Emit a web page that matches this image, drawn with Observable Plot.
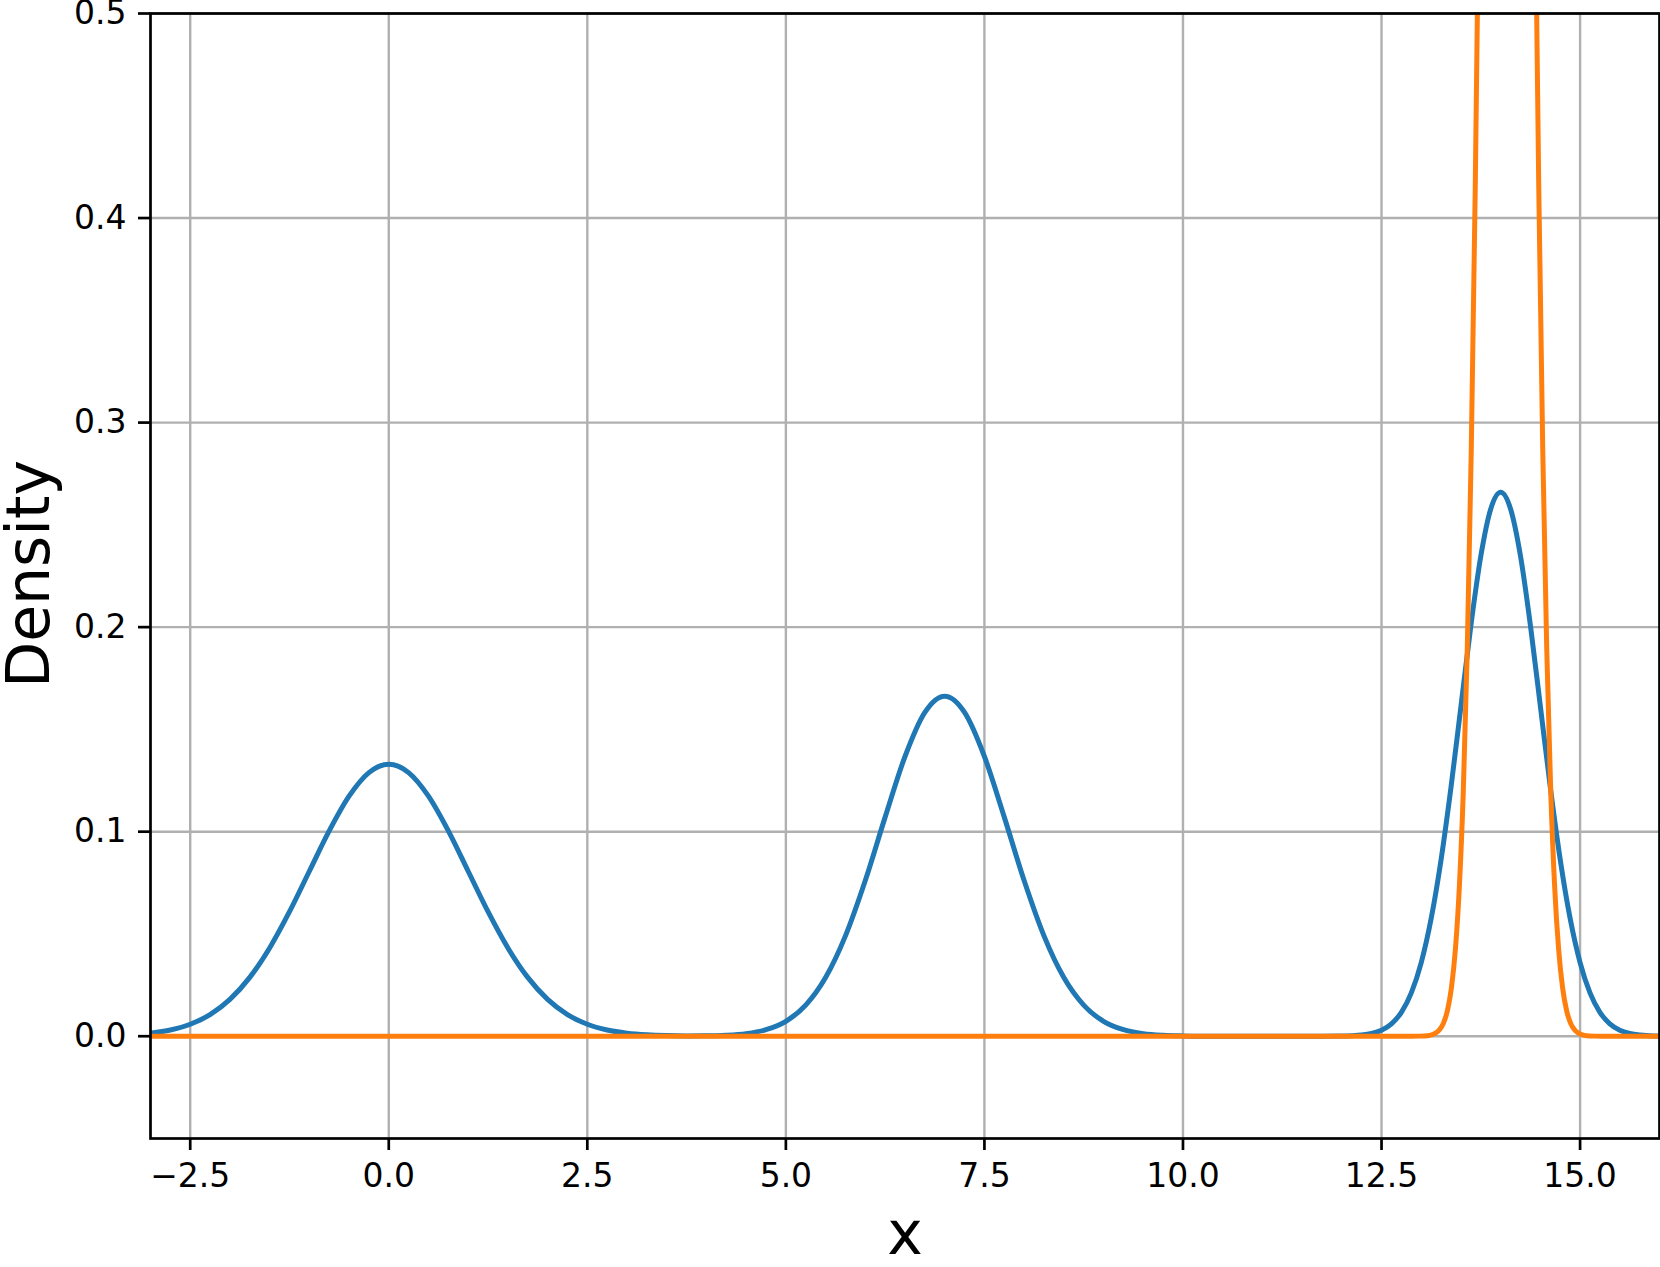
<!DOCTYPE html>
<html>
<head>
<meta charset="utf-8">
<script src="https://cdn.jsdelivr.net/npm/d3@7"></script>
<script src="https://cdn.jsdelivr.net/npm/@observablehq/plot@0.6"></script>
<style>
  html, body { margin: 0; padding: 0; background: #fff; }
  #chart svg { display: block; }
</style>
</head>
<body>
<div id="chart"></div>
<script>
// Tick values
const xTicks = [-2.5, 0, 2.5, 5, 7.5, 10, 12.5, 15];
const yTicks = [0, 0.1, 0.2, 0.3, 0.4, 0.5];

// Blue series (density estimate)
const blueX = [
  -3, -2.75, -2.5, -2.25, -2, -1.75, -1.5, -1.25, -1, -0.75, -0.5, -0.25,
  0, 0.25, 0.5, 0.75, 1, 1.25, 1.5, 1.75, 2, 2.25, 2.5, 2.75,
  3, 3.25, 3.5, 3.75, 4, 4.25, 4.5, 4.75, 5, 5.25, 5.5, 5.75,
  6, 6.25, 6.5, 6.75, 7, 7.25, 7.5, 7.75, 8, 8.25, 8.5, 8.75,
  9, 9.25, 9.5, 9.75, 10, 10.25, 10.5, 10.75, 11, 11.25, 11.5, 11.75,
  12, 12.125, 12.25, 12.375, 12.5, 12.625, 12.75, 12.875,
  13, 13.125, 13.25, 13.375, 13.5, 13.625, 13.75, 13.875,
  14, 14.125, 14.25, 14.375, 14.5, 14.625, 14.75, 14.875,
  15, 15.125, 15.25, 15.375, 15.5, 15.625, 15.75, 15.875, 16
];
const blueY = [
  0.00148, 0.00303, 0.00584, 0.01058, 0.01800, 0.02876, 0.04317, 0.06088, 0.08066, 0.10038, 0.11735, 0.12889,
  0.13298, 0.12889, 0.11735, 0.10038, 0.08066, 0.06088, 0.04317, 0.02876, 0.01800, 0.01058, 0.00584, 0.00303,
  0.00148, 0.00068, 0.00030, 0.00016, 0.00019, 0.00047, 0.00127, 0.00319, 0.00730, 0.01520, 0.02867, 0.04904,
  0.07611, 0.10712, 0.13675, 0.15832, 0.16624, 0.15832, 0.13675, 0.10712, 0.07611, 0.04904, 0.02867, 0.01520,
  0.00730, 0.00318, 0.00126, 0.00045, 0.00015, 0.00004, 0.00001, 0, 0, 0, 0, 0.00001,
  0.00009, 0.00024, 0.00058, 0.00135, 0.00296, 0.00606, 0.01169, 0.02116,
  0.03599, 0.05752, 0.08635, 0.12177, 0.16131, 0.20076, 0.23471, 0.25778,
  0.26596, 0.25778, 0.23471, 0.20076, 0.16131, 0.12177, 0.08635, 0.05752,
  0.03599, 0.02116, 0.01169, 0.00606, 0.00296, 0.00135, 0.00058, 0.00024, 0.00009
];

// Orange series (narrow density)
const orangeX = [
  -3, 0, 5, 10, 12.5, 12.88, 12.98, 13.08, 13.13, 13.18, 13.23, 13.28, 13.33, 13.38, 13.43,
  13.48, 13.53, 13.58, 13.63, 13.68, 13.73, 13.78, 13.88, 13.98, 14.08, 14.18, 14.28, 14.38,
  14.43, 14.48, 14.53, 14.58, 14.63, 14.68, 14.73, 14.78, 14.83, 14.88, 14.93, 14.98, 15.03,
  15.08, 15.18, 15.28, 15.5, 16
];
const orangeY = [
  0, 0, 0, 0, 0, 0.00001, 0.00005, 0.00028, 0.00066, 0.00147, 0.00314, 0.00643, 0.01260, 0.02363, 0.04244,
  0.07304, 0.12031, 0.18977, 0.28663, 0.41450, 0.57396, 0.76106, 1.17473, 1.52408, 1.66230, 1.52408, 1.17473, 0.76106,
  0.57396, 0.41450, 0.28663, 0.18977, 0.12031, 0.07304, 0.04244, 0.02363, 0.01260, 0.00643, 0.00314, 0.00147, 0.00066,
  0.00028, 0.00005, 0.00001, 0, 0
];

const blue = blueX.map((x, i) => ({x, y: blueY[i]}));
const orange = orangeX.map((x, i) => ({x, y: orangeY[i]}));

const fmt = d3.format(".1f");

const chart = Plot.plot({
  width: 1660,
  height: 1267,
  marginLeft: 150,
  marginRight: 1,
  marginTop: 13,
  marginBottom: 129,
  style: {fontFamily: "'DejaVu Sans', sans-serif", background: "white", color: "black"},
  x: {domain: [-3, 16]},
  y: {domain: [-0.05, 0.5]},
  marks: [
    Plot.gridX(xTicks, {stroke: "#b0b0b0", strokeOpacity: 1, strokeWidth: 2.4}),
    Plot.gridY(yTicks, {stroke: "#b0b0b0", strokeOpacity: 1, strokeWidth: 2.4}),
    Plot.line(blue, {x: "x", y: "y", stroke: "#1f77b4", strokeWidth: 5, curve: "monotone-x", clip: true}),
    Plot.line(orange, {x: "x", y: "y", stroke: "#ff7f0e", strokeWidth: 5, curve: "monotone-x", clip: true}),
    Plot.frame({stroke: "black", strokeWidth: 2.7}),
    Plot.axisX(xTicks, {tickSize: 12, tickPadding: 13.5, fontSize: 33, strokeWidth: 2.7, tickFormat: fmt, label: null}),
    Plot.axisY(yTicks, {tickSize: 12, tickPadding: 12, fontSize: 33, strokeWidth: 2.7, tickFormat: fmt, label: null}),
    Plot.text(["x"], {text: d => d, frameAnchor: "bottom", textAnchor: "middle", dy: 115, lineAnchor: "bottom", fontSize: 60}),
    Plot.text(["Density"], {text: d => d, frameAnchor: "left", textAnchor: "middle", rotate: -90, dx: -102, dy: -2, lineAnchor: "bottom", fontSize: 60})
  ]
});

document.getElementById("chart").appendChild(chart);
</script>
</body>
</html>
